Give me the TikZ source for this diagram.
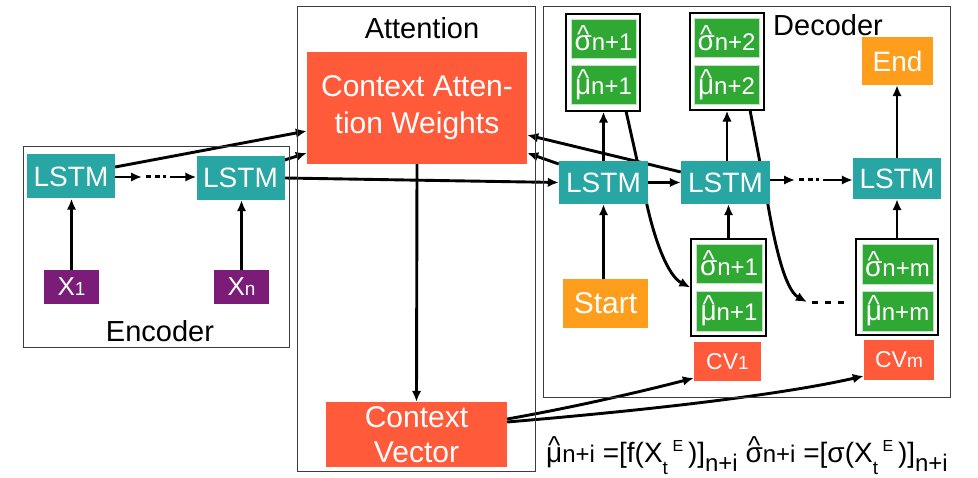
\documentclass[tikz,border=0pt]{standalone}
\usepackage{fontspec}
\setmainfont{Liberation Sans}
\usetikzlibrary{arrows.meta,backgrounds,calc}

\definecolor{lstmteal}{RGB}{40,166,164}
\definecolor{inpurple}{RGB}{123,28,120}
\definecolor{ctxred}{RGB}{255,90,58}
\definecolor{outgreen}{RGB}{48,168,52}
\definecolor{termorange}{RGB}{255,158,28}
\definecolor{framegray}{RGB}{60,60,60}

\newcommand\fs[1]{\fontsize{#1}{#1}\selectfont}
\newcommand\fsl[2]{\fontsize{#1}{#2}\selectfont}
\newsavebox\hatletterbox
% letter with a caret set above it; optional argument = raise of the caret
\newcommand\hatglyph[2][7pt]{%
  \sbox\hatletterbox{#2}%
  \rlap{\hbox to\wd\hatletterbox{\hss\raisebox{#1}{\fs{26}\textasciicircum}\hss}}%
  \usebox\hatletterbox}

\tikzset{
  blk/.style={rectangle, inner sep=0pt, text=white, font=\fs{28}, align=center},
  lstm/.style={blk, fill=lstmteal, minimum width=88pt, minimum height=44pt},
  inbox/.style={blk, fill=inpurple, minimum width=55pt, minimum height=34pt},
  ctx/.style={blk, fill=ctxred},
  gbox/.style={blk, fill=outgreen, draw=white!70!outgreen, line width=0.6pt,
    minimum width=65pt, minimum height=39pt},
  term/.style={blk, fill=termorange},
  pairbox/.style={rectangle, draw=black, line width=1.3pt, inner sep=0pt},
  frame/.style={rectangle, draw=framegray, line width=1pt, inner sep=0pt},
  lbl/.style={inner sep=0pt, font=\fs{29}},
  arr/.style={line width=2.9pt, -{Latex[length=11pt,width=9.5pt]}},
  dots/.style={line width=3pt, dash pattern=on 6pt off 7pt},
}

\begin{document}
\begin{tikzpicture}[x=1pt,y=-1pt]
\useasboundingbox (0,0) rectangle (978,478);

% ---- frames and their titles
\node[frame, minimum width=266pt, minimum height=201pt] (encf) at (156,247.5) {};
\node[frame, minimum width=238pt, minimum height=464pt] (attf) at (416,239) {};
\node[frame, minimum width=407pt, minimum height=391pt] (decf) at (746.5,202.5) {};
\node[lbl] (encl) at (160,331) {Encoder};
\node[lbl] (attl) at (422,28) {Attention};
\node[lbl] (decl) at (828,25) {Decoder};

% ---- encoder
\node[lstm] (e1) at (71,176.5) {LSTM};
\node[lstm] (e2) at (240.5,178) {LSTM};
\node[inbox] (x1) at (71.5,287) {\fs{26}X\fs{19}1};
\node[inbox] (xn) at (241.5,287) {\fs{26}X\fs{19}n};

% ---- attention
\node[ctx, minimum width=220pt, minimum height=112pt, font=\fsl{30}{37}]
  (caw) at (417,108) {Context Atten-\\tion Weights};
\node[ctx, minimum width=181pt, minimum height=65pt, font=\fsl{30}{35}]
  (cv) at (416.5,434.5) {Context\\Vector};

% ---- decoder
\node[lstm, minimum width=89pt, minimum height=43pt] (d1) at (603.5,182.5) {LSTM};
\node[lstm, minimum width=89pt, minimum height=43pt] (d2) at (725.5,182.5) {LSTM};
\node[lstm, minimum height=41pt] (d3) at (897,178.5) {LSTM};
\node[term, minimum width=85pt, minimum height=49pt, font=\fs{30}] (start) at (605.5,303.5) {Start};
\node[term, minimum width=71pt, minimum height=48pt] (end) at (897.5,61) {End};

\node[pairbox, minimum width=74pt, minimum height=97pt] (t1) at (603,62.5) {};
\node[gbox] (t1s) at (603.5,38.5) {\hatglyph{σ}\fs{24}n+1};
\node[gbox] (t1m) at (603.5,84.5) {\hatglyph{μ}\fs{24}n+1};

\node[pairbox, minimum width=74pt, minimum height=97pt] (t2) at (727,61.5) {};
\node[gbox] (t2s) at (726.5,38) {\hatglyph{σ}\fs{24}n+2};
\node[gbox] (t2m) at (726.5,84.5) {\hatglyph{μ}\fs{24}n+2};

\node[pairbox, minimum width=75pt, minimum height=97pt] (l1) at (728.5,287.5) {};
\node[gbox, minimum width=66pt] (l1s) at (729,263.5) {\hatglyph{σ}\fs{24}n+1};
\node[gbox, minimum width=66pt, minimum height=40pt] (l1m) at (729,311) {\hatglyph{μ}\fs{24}n+1};

\node[pairbox, minimum width=82pt, minimum height=96pt] (lm) at (897,287) {};
\node[gbox, minimum width=71pt, minimum height=40pt] (lms) at (897.5,264) {\hatglyph{σ}\fs{24}n+m};
\node[gbox, minimum width=71pt, minimum height=40pt] (lmm) at (897.5,311) {\hatglyph{μ}\fs{24}n+m};

\node[ctx, minimum width=67pt, minimum height=39pt] (cv1) at (727.5,361.5) {\fs{23}CV\fs{19}1};
\node[ctx, minimum width=70pt, minimum height=40pt] (cvm) at (899,360) {\fs{23}CV\fs{19}m};

% ---- output formula
\node[anchor=base west, inner sep=0pt, font=\fs{28}] (formula) at (546,463)
  {\hatglyph[8.5pt]{μ}{\fs{24}n+i} =[f(X\raisebox{-11pt}{\fs{19}t}\,\raisebox{11pt}{\fs{16}E}\,)]\raisebox{-9pt}{\fs{24}n+i}
   \hatglyph[8.5pt]{σ}{\fs{24}n+i} =[σ(X\raisebox{-11pt}{\fs{19}t}\,\raisebox{11pt}{\fs{16}E}\,)]\raisebox{-9pt}{\fs{24}n+i}};

% ---- connectors (behind the boxes)
\coordinate (ea) at (142,177);
\coordinate (eb) at (146,177);
\coordinate (ec) at (166,177);
\coordinate (ed) at (170,177);
\coordinate (da) at (795,180);
\coordinate (db) at (799,180);
\coordinate (dc) at (819,180);
\coordinate (dd) at (823,180);
\coordinate (ka) at (626,111);
\coordinate (kb) at (647,205);
\coordinate (ma) at (750,110);
\coordinate (mb) at (768,205);
\coordinate (mc) at (807,302);
\coordinate (me) at (812,302.5);
\coordinate (mf) at (845,302.5);

\begin{scope}[on background layer]
  % encoder
  \draw[arr] (x1.north) -- (x1.north |- e1.south);
  \draw[arr] (xn.north) -- (xn.north |- e2.south);
  \draw[arr] (e1.east |- ea) -- (ea);
  \draw[dots, dash pattern=on 5pt off 3.5pt] (eb) -- (ec);
  \draw[arr] (ed) -- (e2.west |- ed);
  \draw[arr] ([yshift=9.5pt]e1.east) -- ([yshift=-23pt]caw.west);
  \draw[arr] ([yshift=18pt]e2.east) -- ([yshift=-45pt]caw.west);
  \draw[arr] (e2.east) -- (d1.west);
  % attention
  \draw[arr] (caw.south) -- (cv.north);
  \draw[arr] ([yshift=15.5pt]cv.east) .. controls (570,408) and (640,392) .. ([yshift=-16.5pt]cv1.west);
  \draw[arr] ([yshift=12.5pt]cv.east) .. controls (650,410) and (780,395) .. ([yshift=-16pt]cvm.west);
  \draw[arr] ([yshift=18.5pt]d1.west) -- ([yshift=-45pt]caw.east);
  \draw[arr] ([yshift=10.5pt]d2.west) -- ([yshift=-27pt]caw.east);
  % decoder
  \draw[arr] (d1.south |- start.north) -- (d1.south);
  \draw[arr] (d1.north) -- (d1.north |- t1.south);
  \draw[arr] (d1.east) -- (d2.west);
  \draw[arr] (t2.south |- d2.north) -- (t2.south);
  \draw[arr] (l1.north) -- (l1.north |- d2.south);
  \draw[arr] (d2.east |- da) -- (da);
  \draw[dots, dash pattern=on 5pt off 3.5pt] (db) -- (dc);
  \draw[arr] (dd) -- (d3.west |- dd);
  \draw[arr] (lm.north) -- (lm.north |- d3.south);
  \draw[arr] (d3.north) -- (d3.north |- end.south);
  \draw[arr] (ka) -- (kb) .. controls (655,241) and (668,276) .. (l1.west);
  \draw[arr] (ma) -- (mb) .. controls (775,245) and (785,290) .. (mc);
  \draw[dots] (me) -- (mf);
\end{scope}
\end{tikzpicture}
\end{document}
